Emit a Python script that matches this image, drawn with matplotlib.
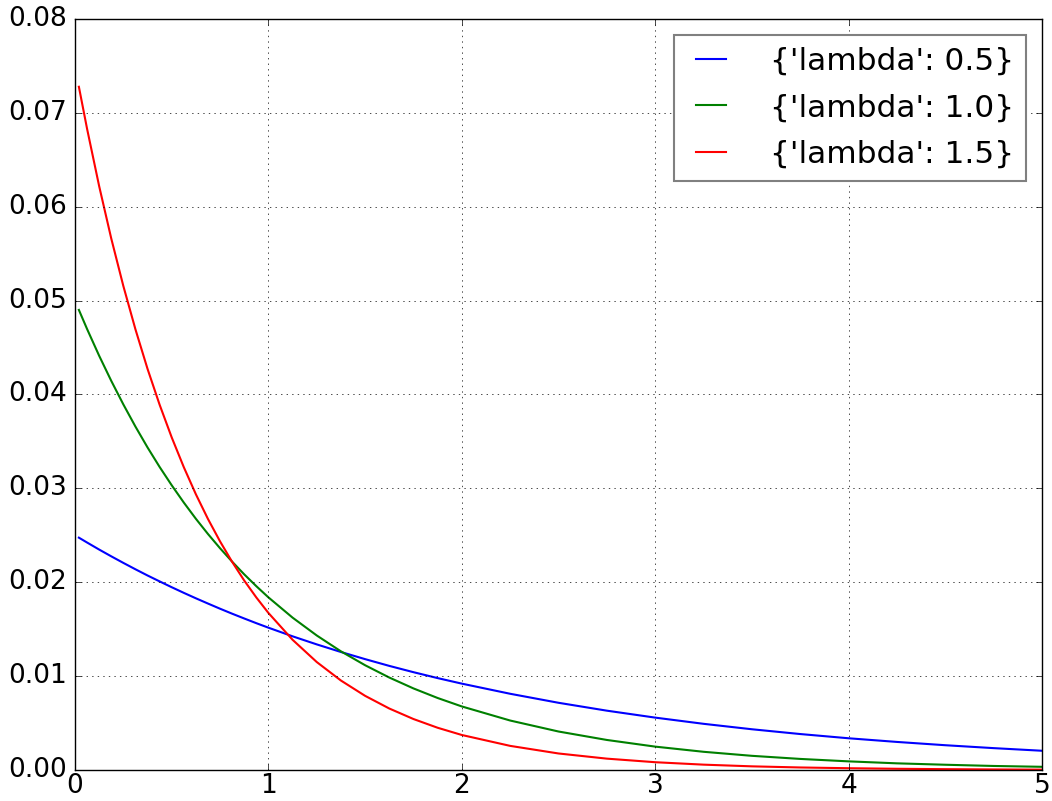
import matplotlib
matplotlib.use("Agg")
import matplotlib.pyplot as plt

plt.style.use("classic")

# values (denser where the curves bend most)
x = [0.02, 0.0625, 0.125, 0.1875, 0.25, 0.3125, 0.375, 0.4375, 0.5, 0.5625, 0.625,
     0.6875, 0.75, 0.8125, 0.875, 0.9375, 1.0, 1.125, 1.25, 1.375, 1.5, 1.625, 1.75,
     1.875, 2.0, 2.25, 2.5, 2.75, 3.0, 3.25, 3.5, 3.75, 4.0, 4.25, 4.5, 4.75, 5.0]
lam_05 = [0.02475, 0.02423, 0.02348, 0.02276, 0.02206, 0.02138, 0.02072, 0.02009,
          0.01947, 0.01887, 0.01829, 0.01773, 0.01718, 0.01665, 0.01614, 0.01564,
          0.01516, 0.01424, 0.01338, 0.01257, 0.01181, 0.01109, 0.01042, 0.00979,
          0.00920, 0.00812, 0.00716, 0.00632, 0.00558, 0.00492, 0.00434, 0.00383,
          0.00338, 0.00299, 0.00264, 0.00233, 0.00205]
lam_10 = [0.04901, 0.04697, 0.04412, 0.04145, 0.03894, 0.03658, 0.03436, 0.03228,
          0.03033, 0.02849, 0.02676, 0.02514, 0.02362, 0.02219, 0.02084, 0.01958,
          0.01839, 0.01623, 0.01433, 0.01264, 0.01116, 0.00985, 0.00869, 0.00767,
          0.00677, 0.00527, 0.00410, 0.00320, 0.00249, 0.00194, 0.00151, 0.00118,
          0.00092, 0.00071, 0.00056, 0.00043, 0.00034]
lam_15 = [0.07278, 0.06829, 0.06218, 0.05661, 0.05155, 0.04694, 0.04273, 0.03891,
          0.03543, 0.03226, 0.02937, 0.02674, 0.02435, 0.02217, 0.02018, 0.01838,
          0.01673, 0.01387, 0.01150, 0.00953, 0.00790, 0.00655, 0.00543, 0.00450,
          0.00373, 0.00257, 0.00176, 0.00121, 0.00083, 0.00057, 0.00039, 0.00027,
          0.00019, 0.00013, 0.00009, 0.00006, 0.00004]
labels = ["{'lambda': 0.5}", "{'lambda': 1.0}", "{'lambda': 1.5}"]
colors = ["b", "g", "r"]

fig = plt.figure(figsize=(10.52, 8.01), dpi=100, facecolor="white")
ax = fig.add_axes([0.0713, 0.0387, 0.9192, 0.9376])
for ys, lab, c in zip([lam_05, lam_10, lam_15], labels, colors):
    ax.plot(x, ys, color=c, lw=1.5, label=lab)

ax.set_xlim(0, 5)
ax.set_ylim(0, 0.08)
ax.grid(True)
ax.tick_params(axis="y", labelsize=19, pad=6)
ax.tick_params(axis="x", labelsize=19, pad=2)
leg = ax.legend(loc="upper right", fontsize=22.5, handlelength=1.55,
                handletextpad=1.1, borderaxespad=0.5, labelspacing=0.55)
leg.get_frame().set_edgecolor("gray")
leg.get_frame().set_linewidth(1.5)

fig.savefig("out.png", dpi=100, facecolor="white")
